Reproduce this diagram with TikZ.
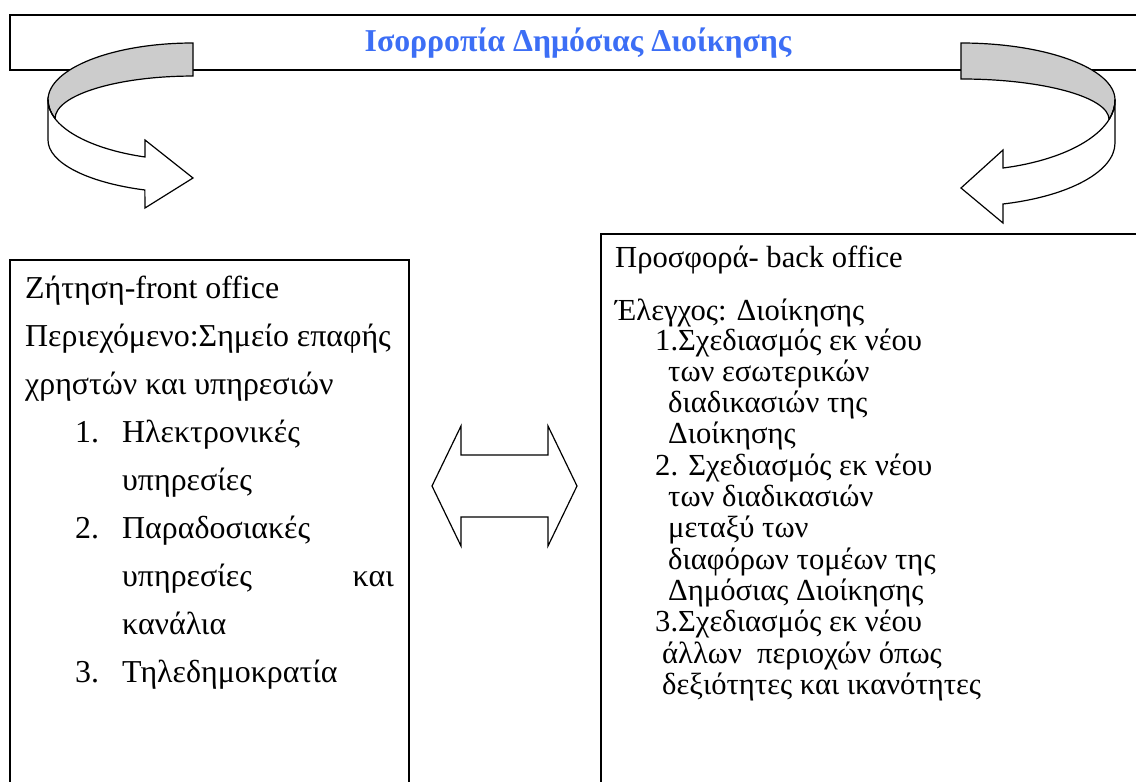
\documentclass[tikz,border=0pt]{standalone}
\usepackage{fontspec}
\setmainfont{Liberation Serif}
\definecolor{titleblue}{RGB}{60,110,245}
\definecolor{bandgray}{RGB}{204,204,204}
\begin{document}
\begin{tikzpicture}[x=1pt,y=1pt,
  frame/.style={line width=1.7pt},
  ribbon/.style={line width=1.2pt, line join=miter},
  body/.style={font=\fontsize{31.9}{31.9}\selectfont, anchor=base west, inner sep=0pt},
  bodyr/.style={font=\fontsize{30.6}{30.6}\selectfont, anchor=base west, inner sep=0pt},
  titletext/.style={font=\fontsize{31.8}{31.8}\selectfont\bfseries, text=titleblue, anchor=base, inner sep=0pt}]
\useasboundingbox (0,0) rectangle (1136,-782);

% banner
\draw[frame] (1140,-15) -- (10,-15) -- (10,-70) -- (1140,-70);
\node[titletext] (title) at (578,-51) {Ισορροπία Δημόσιας Διοίκησης};

% left curved arrow
\draw[ribbon, fill=bandgray] (193,-43)
  arc[start angle=90, end angle=180, x radius=145, y radius=57]
  arc[start angle=180, end angle=198, x radius=145, y radius=60]
  arc[start angle=180, end angle=90, x radius=138, y radius=42.5]
  -- cycle;
\draw[ribbon, fill=white] (48,-100) -- (48,-140)
  arc[start angle=180, end angle=250.6, x radius=145, y radius=53]
  -- (145,-208) -- (193,-178) -- (145,-140) -- (145,-157)
  arc[start angle=250.6, end angle=180, x radius=145, y radius=60]
  -- cycle;
\draw[ribbon] (48,-100) arc[start angle=180, end angle=198, x radius=145, y radius=60];

% right curved arrow
\draw[ribbon, fill=bandgray] (961,-43)
  arc[start angle=90, end angle=0, x radius=154, y radius=57]
  arc[start angle=0, end angle=-16, x radius=154, y radius=70.7]
  arc[start angle=0, end angle=90, x radius=148, y radius=40.5]
  -- cycle;
\draw[ribbon, fill=white] (1115,-100) -- (1115,-143)
  arc[start angle=0, end angle=-74.2, x radius=154, y radius=63.4]
  -- (1003,-223) -- (961,-188) -- (1003,-150) -- (1003,-168)
  arc[start angle=-74.2, end angle=0, x radius=154, y radius=70.7]
  -- cycle;
\draw[ribbon] (1115,-100) arc[start angle=0, end angle=-16, x radius=154, y radius=70.7];

% double arrow
\draw[ribbon] (432,-486) -- (461,-426) -- (461,-455) -- (548,-455) -- (548,-426)
  -- (577,-486) -- (548,-546) -- (548,-517) -- (461,-517) -- (461,-546) -- cycle;

% left box
\draw[frame] (10,-790) -- (10,-260) -- (409,-260) -- (409,-790);
\node[body] (l1) at (25,-298) {Ζήτηση-front office};
\node[body] (l2) at (25,-346.1) {Περιεχόμενο:Σημείο επαφής};
\node[body] (l3) at (25,-394.2) {χρηστών και υπηρεσιών};
\node[body] (n1) at (75,-442.3) {1.};
\node[body] (l4) at (122,-442.3) {Ηλεκτρονικές};
\node[body] (l5) at (122,-490.4) {υπηρεσίες};
\node[body] (n2) at (75,-538.5) {2.};
\node[body] (l6) at (122,-538.5) {Παραδοσιακές};
\node[body] (l7) at (122,-586.6) {υπηρεσίες};
\node[body, anchor=base east] (l7b) at (394,-586.6) {και};
\node[body] (l8) at (122,-634.7) {κανάλια};
\node[body] (n3) at (75,-682.8) {3.};
\node[body] (l9) at (122,-682.8) {Τηλεδημοκρατία};

% right box
\draw[frame] (601,-790) -- (601,-234) -- (1140,-234);
\node[bodyr] (r1) at (615,-267.5) {Προσφορά- back office};
\node[bodyr] (r2) at (615,-320.5) {Έλεγχος: Διοίκησης};
\node[bodyr] (r3) at (655,-350) {1.Σχεδιασμός εκ νέου};
\node[bodyr] (r4) at (668,-381.3) {των εσωτερικών};
\node[bodyr] (r5) at (668,-412.6) {διαδικασιών της};
\node[bodyr] (r6) at (668,-443.9) {Διοίκησης};
\node[bodyr] (r7) at (655,-475.2) {2. Σχεδιασμός εκ νέου};
\node[bodyr] (r8) at (668,-506.5) {των διαδικασιών};
\node[bodyr] (r9) at (668,-537.8) {μεταξύ των};
\node[bodyr] (r10) at (668,-569.1) {διαφόρων τομέων της};
\node[bodyr] (r11) at (668,-600.4) {Δημόσιας Διοίκησης};
\node[bodyr] (r12) at (655,-631.7) {3.Σχεδιασμός εκ νέου};
\node[bodyr] (r13) at (662,-663) {άλλων\ \ περιοχών όπως};
\node[bodyr] (r14) at (662,-694.3) {δεξιότητες και ικανότητες};
\end{tikzpicture}
\end{document}
